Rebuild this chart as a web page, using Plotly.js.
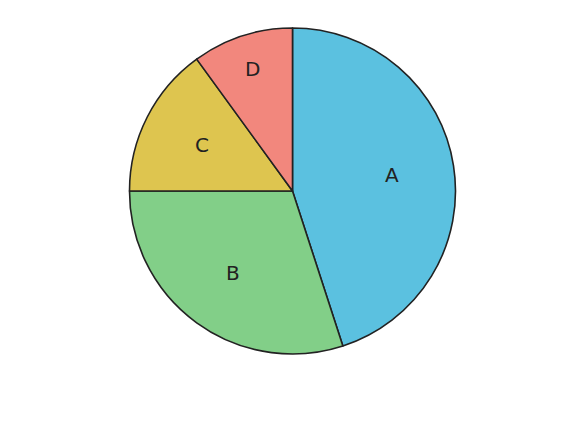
<!DOCTYPE html>
<html>
<head>
<meta charset="utf-8">
<script src="https://cdn.plot.ly/plotly-3.0.1.min.js"></script>
<style>html,body{margin:0;padding:0;background:#fff}</style>
</head>
<body>
<div id="chart" style="width:585px;height:439px"></div>
<script>
var labels = ['A', 'B', 'C', 'D']
var values = [45, 30, 15, 10]
var colors = ['#5bc1e0', '#82cf88', '#dec54f', '#f2877d']

var W = 585, H = 439
var margin = {t: 28, r: 0, b: 85, l: 0}
var plotW = W - margin.l - margin.r
var plotH = H - margin.t - margin.b
var R = Math.min(plotW, plotH) / 2

// labels sit at the middle angle of each slice, narrow slices a bit further out
var total = values.reduce(function(a, b) { return a + b }, 0)
var annotations = []
var cum = 0
for (var i = 0; i < values.length; i++) {
  var mid = (cum + values[i] / 2) / total * 2 * Math.PI
  cum += values[i]
  var frac = values[i] / total < 0.12 ? 0.785 : 0.62
  annotations.push({
    xref: 'paper', yref: 'paper',
    x: 0.5 + frac * R * Math.sin(mid) / plotW,
    y: 0.5 + frac * R * Math.cos(mid) / plotH,
    text: labels[i],
    showarrow: false,
    xanchor: 'center', yanchor: 'middle',
    font: {family: 'DejaVu Sans', size: 20, color: '#222222'}
  })
}

var trace = {
  type: 'pie',
  labels: labels,
  values: values,
  sort: false,
  direction: 'clockwise',
  rotation: 0,
  textinfo: 'none',
  hoverinfo: 'label+value',
  marker: {colors: colors, line: {color: '#222222', width: 1.6}}
}

var layout = {
  width: W,
  height: H,
  margin: margin,
  showlegend: false,
  annotations: annotations,
  paper_bgcolor: '#ffffff'
}

Plotly.newPlot('chart', [trace], layout, {displayModeBar: false})
</script>
</body>
</html>
